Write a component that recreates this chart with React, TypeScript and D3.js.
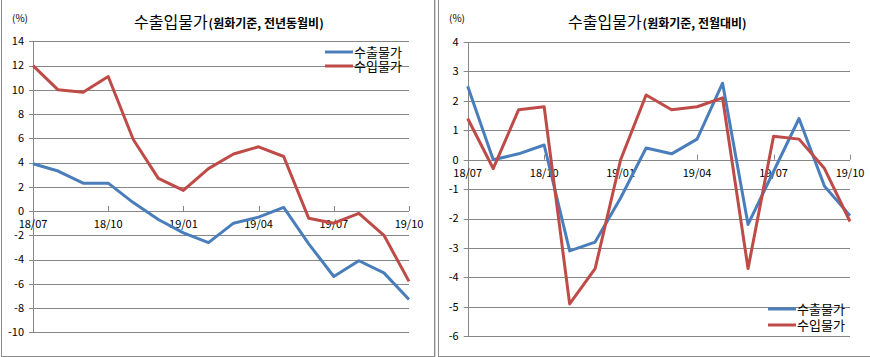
import React from "react";
import * as d3 from "d3";

const months = ["18/07","18/08","18/09","18/10","18/11","18/12","19/01","19/02","19/03","19/04","19/05","19/06","19/07","19/08","19/09","19/10"];
const tickMonths = ["18/07","18/10","19/01","19/04","19/07","19/10"];

const yoyExport = [3.9, 3.3, 2.3, 2.3, 0.7, -0.7, -1.8, -2.6, -1.0, -0.5, 0.3, -2.7, -5.4, -4.1, -5.1, -7.3];
const yoyImport = [12.0, 10.0, 9.8, 11.1, 5.9, 2.7, 1.7, 3.5, 4.7, 5.3, 4.5, -0.6, -1.0, -0.2, -2.0, -5.8];
const yoyTicks = [14, 12, 10, 8, 6, 4, 2, 0, -2, -4, -6, -8, -10];

const momExport = [2.5, 0.0, 0.2, 0.5, -3.1, -2.8, -1.3, 0.4, 0.2, 0.7, 2.6, -2.2, -0.4, 1.4, -0.9, -1.9];
const momImport = [1.4, -0.3, 1.7, 1.8, -4.9, -3.7, 0.0, 2.2, 1.7, 1.8, 2.1, -3.7, 0.8, 0.7, -0.3, -2.1];
const momTicks = [4, 3, 2, 1, 0, -1, -2, -3, -4, -5, -6];

const seriesNames = ["수출물가", "수입물가"];
const colors = ["#4A7EBB", "#BE4B48"];
const FONT = "'Noto Sans CJK KR', 'Noto Sans', sans-serif";
const GRID = "#868686";

type PanelProps = {
  frame: [number, number, number, number];
  x0: number; x1: number; yTop: number; yBot: number;
  domain: [number, number];
  ticks: number[];
  exp: number[]; imp: number[];
  titleX: number; subtitle: string;
  pctX: number;
  legendX: number; legendY: number[];
};

function Panel(p: PanelProps) {
  const x = d3.scalePoint<string>().domain(months).range([p.x0, p.x1]);
  const y = d3.scaleLinear().domain(p.domain).range([p.yBot, p.yTop]);
  const line = d3.line<number>().x((_, i) => x(months[i]) as number).y((d) => y(d));
  const y0 = y(0);
  const [fx0, fy0, fx1, fy1] = p.frame;
  return (
    <g>
      <rect x={fx0 + 0.5} y={fy0 + 0.5} width={fx1 - fx0} height={fy1 - fy0} fill="#fff" stroke="#8a8a8a" strokeWidth={1} />
      <text x={p.titleX} y={28} fontFamily={FONT} fontSize={16} fill="#000">
        수출입물가
        <tspan fontSize={12} fontWeight="bold" dx={1}>{p.subtitle}</tspan>
      </text>
      <text x={p.pctX} y={22} fontFamily={FONT} fontSize={10} fill="#000">(%)</text>
      {p.ticks.map((t) => (
        <g key={t}>
          <line x1={p.x0 - 4} x2={p.x1} y1={Math.round(y(t)) + 0.5} y2={Math.round(y(t)) + 0.5} stroke={GRID} strokeWidth={1} />
          <text x={p.x0 - 9} y={y(t)} dy="0.35em" textAnchor="end" fontFamily={FONT} fontSize={11} fill="#000">{t}</text>
        </g>
      ))}
      <line x1={Math.round(p.x0) + 0.5} x2={Math.round(p.x0) + 0.5} y1={p.yTop} y2={p.yBot} stroke={GRID} strokeWidth={1} />
      {tickMonths.map((m) => (
        <g key={m}>
          <line x1={Math.round(x(m) as number) + 0.5} x2={Math.round(x(m) as number) + 0.5} y1={y0 - 5} y2={y0} stroke={GRID} strokeWidth={1} />
          <text x={x(m) as number} y={y0 + 13} dy="0.35em" textAnchor="middle" fontFamily={FONT} fontSize={11} fill="#000">{m}</text>
        </g>
      ))}
      <path d={line(p.exp) || ""} fill="none" stroke={colors[0]} strokeWidth={3} strokeLinejoin="round" />
      <path d={line(p.imp) || ""} fill="none" stroke={colors[1]} strokeWidth={3} strokeLinejoin="round" />
      {seriesNames.map((n, i) => (
        <g key={n}>
          <line x1={p.legendX} x2={p.legendX + 28} y1={p.legendY[i]} y2={p.legendY[i]} stroke={colors[i]} strokeWidth={3} />
          <text x={p.legendX + 29} y={p.legendY[i]} dy="0.35em" fontFamily={FONT} fontSize={13} fill="#000">{n}</text>
        </g>
      ))}
    </g>
  );
}

export default function App() {
  return (
    <svg width={870} height={357} style={{ position: "absolute", left: 0, top: 0, background: "#fff" }}>
      <rect x={0} y={0} width={870} height={357} fill="#fff" />
      <line x1={435.5} x2={435.5} y1={0} y2={357} stroke="#d4d4d4" />
      <Panel
        frame={[1, -2, 434, 356]}
        x0={33} x1={409} yTop={41.3} yBot={332.3}
        domain={[-10, 14]} ticks={yoyTicks}
        exp={yoyExport} imp={yoyImport}
        titleX={134} subtitle="(원화기준, 전년동월비)" pctX={12}
        legendX={325} legendY={[52, 66]}
      />
      <Panel
        frame={[438, -2, 880, 356]}
        x0={467.7} x1={850} yTop={42} yBot={336.3}
        domain={[-6, 4]} ticks={momTicks}
        exp={momExport} imp={momImport}
        titleX={568} subtitle="(원화기준, 전월대비)" pctX={449}
        legendX={768} legendY={[309, 325]}
      />
    </svg>
  );
}
